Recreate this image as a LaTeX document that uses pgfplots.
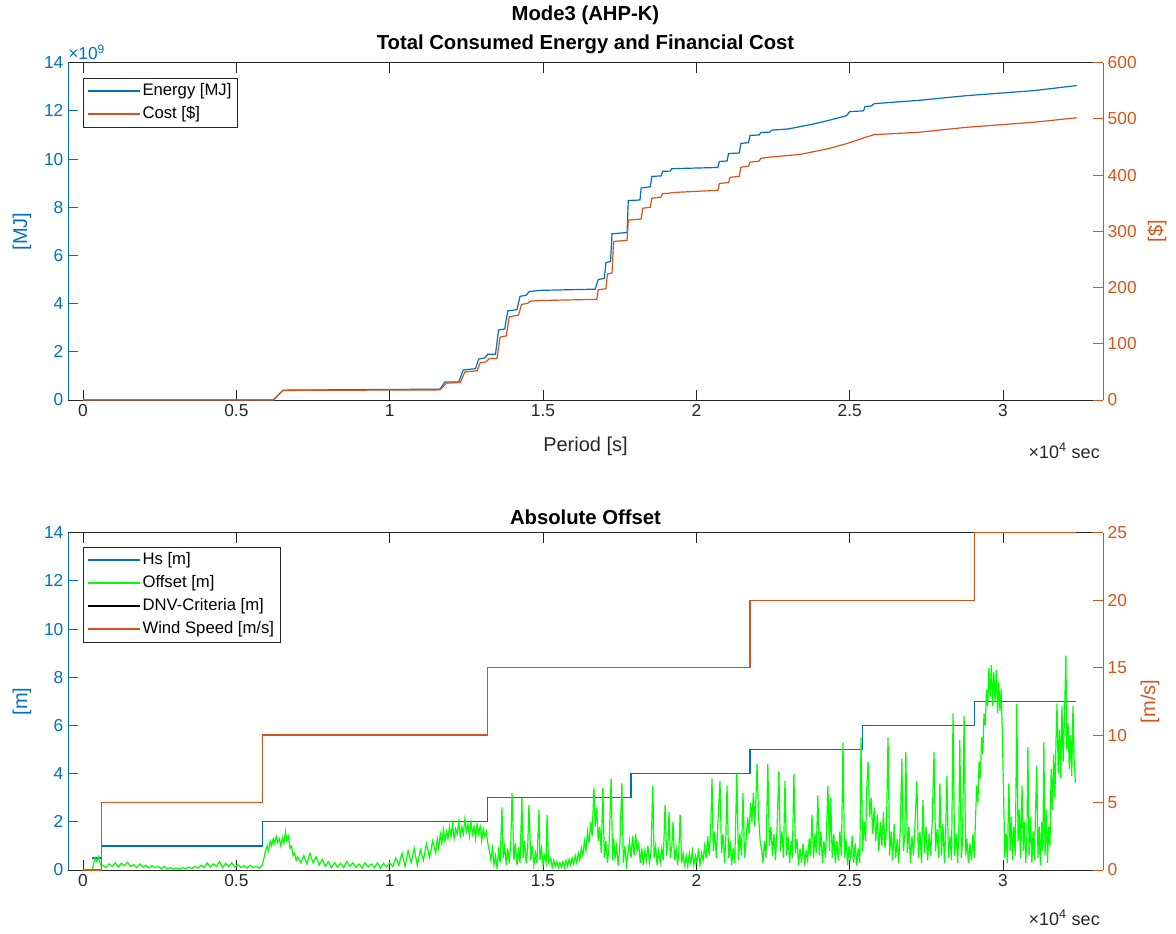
\documentclass[border=0pt]{standalone}
\usepackage{pgfplots}
\usepackage{pgfplotstable}
\pgfplotsset{compat=1.18}
\usepackage{fontspec}
\setmainfont{Liberation Sans}
\definecolor{mblue}{rgb}{0,0.447,0.741}
\definecolor{morange}{rgb}{0.85,0.325,0.098}
\definecolor{mgray}{rgb}{0.15,0.15,0.15}
\definecolor{mgreen}{rgb}{0,1,0}

\pgfplotstableread{
t o
0.030 0.0
0.035 0.3
0.040 0.5
0.045 0.35
0.050 0.55
0.055 0.3
0.060 0.15
0.065 0.2
0.075 0.1
0.085 0.25
0.095 0.15
0.105 0.3
0.115 0.12
0.125 0.28
0.135 0.18
0.145 0.32
0.155 0.15
0.165 0.22
0.175 0.1
0.185 0.25
0.195 0.12
0.205 0.2
0.215 0.08
0.225 0.18
0.235 0.1
0.245 0.15
0.255 0.06
0.265 0.14
0.275 0.05
0.285 0.1
0.295 0.04
0.305 0.08
0.315 0.03
0.325 0.1
0.335 0.05
0.345 0.12
0.355 0.06
0.365 0.15
0.375 0.08
0.385 0.2
0.395 0.1
0.405 0.3
0.415 0.12
0.425 0.25
0.435 0.15
0.445 0.35
0.455 0.1
0.465 0.28
0.475 0.15
0.485 0.3
0.495 0.12
0.505 0.22
0.515 0.1
0.525 0.18
0.535 0.08
0.545 0.2
0.555 0.1
0.565 0.15
0.575 0.08
0.585 0.2
0.590 0.5
0.595 0.8
0.600 1.0
0.605 0.8
0.610 1.2
0.615 1.0
0.620 1.3
0.625 1.1
0.630 1.4
0.635 1.15
0.640 1.3
0.645 1.0
0.650 1.35
0.655 1.1
0.660 1.6
0.665 1.2
0.670 1.4
0.675 0.9
0.680 1.0
0.685 0.6
0.690 0.7
0.695 0.4
0.700 0.55
0.71 0.3
0.72 0.6
0.73 0.25
0.74 0.7
0.75 0.3
0.76 0.55
0.77 0.2
0.78 0.45
0.79 0.15
0.80 0.35
0.81 0.1
0.82 0.3
0.83 0.12
0.84 0.28
0.85 0.1
0.86 0.35
0.87 0.15
0.88 0.3
0.89 0.1
0.90 0.25
0.91 0.08
0.92 0.3
0.93 0.12
0.94 0.25
0.95 0.1
0.96 0.3
0.97 0.08
0.98 0.28
0.99 0.12
1.00 0.3
1.01 0.15
1.02 0.5
1.03 0.2
1.04 0.7
1.05 0.15
1.06 0.8
1.07 0.3
1.08 0.9
1.09 0.2
1.10 0.85
1.11 0.4
1.12 1.1
1.13 0.5
1.14 1.2
1.15 0.7
1.155 1.3
1.160 0.9
1.165 1.5
1.170 1.1
1.175 1.7
1.180 1.2
1.185 1.6
1.190 1.3
1.195 1.8
1.200 1.4
1.205 1.9
1.210 1.3
1.215 1.7
1.220 1.5
1.225 2.0
1.230 1.4
1.235 1.8
1.240 1.5
1.245 2.1
1.250 1.6
1.255 1.9
1.260 1.4
1.265 2.0
1.270 1.5
1.275 1.8
1.280 1.3
1.285 1.9
1.290 1.5
1.295 1.8
1.300 1.2
1.305 1.7
1.310 1.4
1.315 1.6
1.320 1.1
1.325 0.8
1.330 0.4
1.335 0.9
1.340 0.2
1.345 0.6
1.350 0.1
1.355 0.8
1.360 0.3
1.366 2.6
1.370 0.5
1.375 1.0
1.380 0.2
1.385 0.9
1.390 0.3
1.395 1.2
1.399 3.2
1.405 0.4
1.410 1.1
1.415 0.2
1.420 0.8
1.425 0.3
1.431 3.0
1.435 0.5
1.440 1.2
1.445 0.3
1.450 0.9
1.454 2.7
1.460 0.4
1.465 1.0
1.470 0.2
1.475 0.7
1.480 0.3
1.487 2.5
1.490 0.4
1.495 0.9
1.500 0.2
1.505 0.6
1.510 0.3
1.513 2.3
1.518 0.3
1.525 0.5
1.530 0.1
1.535 0.4
1.540 0.15
1.545 0.35
1.550 0.1
1.555 0.3
1.560 0.12
1.565 0.35
1.570 0.1
1.575 0.4
1.580 0.15
1.585 0.45
1.590 0.2
1.595 0.5
1.600 0.25
1.605 0.6
1.610 0.3
1.615 0.7
1.620 0.4
1.625 0.9
1.630 0.6
1.635 1.2
1.640 0.8
1.645 1.6
1.650 1.1
1.655 2.0
1.660 1.4
1.666 3.4
1.670 1.8
1.675 2.6
1.680 1.2
1.685 1.8
1.690 0.7
1.695 3.4
1.700 0.5
1.705 1.2
1.710 0.3
1.715 0.9
1.722 3.8
1.727 0.4
1.730 1.3
1.735 0.5
1.740 1.0
1.745 0.2
1.750 0.8
1.757 3.6
1.762 0.3
1.767 1.0
1.772 0.2
1.777 0.7
1.782 1.2
1.787 0.5
1.792 1.4
1.797 0.6
1.802 1.5
1.807 0.8
1.812 1.1
1.817 0.3
1.822 0.9
1.827 0.2
1.832 0.8
1.837 0.4
1.842 1.0
1.847 0.3
1.852 0.7
1.858 3.5
1.862 0.5
1.867 1.0
1.872 0.2
1.877 0.8
1.882 0.3
1.887 0.9
1.892 0.4
1.898 2.7
1.903 0.6
1.907 1.1
1.911 2.4
1.915 0.5
1.920 1.0
1.924 2.0
1.929 0.4
1.934 0.9
1.939 0.2
1.943 0.8
1.947 2.3
1.952 0.3
1.957 0.7
1.962 0.2
1.967 0.6
1.972 0.15
1.977 0.7
1.982 0.3
1.987 0.8
1.992 0.2
1.997 0.6
2.002 0.3
2.007 0.9
2.012 0.2
2.017 0.7
2.022 0.4
2.027 1.0
2.032 0.5
2.037 1.4
2.042 0.6
2.047 1.8
2.051 3.8
2.055 0.8
2.060 1.6
2.065 0.5
2.070 1.9
2.077 3.7
2.082 0.7
2.087 1.5
2.092 0.3
2.096 1.3
2.100 3.5
2.105 0.5
2.110 1.2
2.115 0.2
2.120 0.9
2.125 0.3
2.132 4.0
2.137 0.4
2.142 1.5
2.147 0.6
2.152 3.2
2.157 0.5
2.162 1.2
2.167 2.2
2.172 1.5
2.177 2.8
2.181 2.0
2.186 3.2
2.190 1.8
2.194 2.9
2.198 4.4
2.203 2.2
2.208 1.2
2.213 0.8
2.217 0.3
2.222 1.2
2.227 0.5
2.233 4.4
2.238 1.0
2.243 1.8
2.248 0.6
2.253 1.5
2.258 0.4
2.263 1.7
2.269 4.1
2.274 0.8
2.279 1.6
2.284 0.5
2.289 3.7
2.294 0.6
2.299 1.4
2.304 0.3
2.309 1.2
2.313 0.5
2.318 4.0
2.323 0.7
2.328 1.3
2.333 0.2
2.338 0.9
2.343 0.3
2.348 1.1
2.353 0.2
2.358 0.8
2.363 0.4
2.368 1.3
2.372 0.6
2.377 2.3
2.382 0.5
2.387 1.5
2.391 0.7
2.396 3.1
2.401 0.6
2.406 1.6
2.411 0.3
2.416 1.2
2.421 0.5
2.425 1.8
2.429 3.5
2.434 0.8
2.438 3.0
2.443 0.5
2.448 1.5
2.453 0.3
2.458 1.2
2.463 0.4
2.468 1.6
2.473 0.6
2.478 5.3
2.483 0.5
2.488 1.3
2.493 0.2
2.498 1.0
2.503 0.4
2.508 1.4
2.513 0.3
2.518 1.1
2.523 0.2
2.528 0.9
2.533 0.3
2.537 5.5
2.542 0.8
2.547 2.0
2.552 1.2
2.556 3.5
2.560 4.5
2.565 2.2
2.570 3.0
2.575 1.5
2.580 2.6
2.585 1.2
2.590 2.3
2.595 0.8
2.600 2.0
2.605 1.0
2.610 2.4
2.615 0.9
2.620 1.8
2.625 5.5
2.630 0.6
2.635 1.6
2.640 0.4
2.645 1.9
2.650 0.5
2.655 1.3
2.660 0.3
2.665 1.7
2.670 4.6
2.675 0.8
2.680 1.5
2.683 4.9
2.688 0.7
2.693 1.8
2.698 0.3
2.703 1.4
2.708 0.6
2.713 1.9
2.719 3.7
2.724 0.5
2.729 1.6
2.734 0.3
2.739 2.9
2.744 0.7
2.749 1.8
2.754 0.4
2.759 1.5
2.764 0.6
2.769 2.0
2.775 4.9
2.780 0.8
2.785 1.7
2.790 0.5
2.794 3.6
2.799 0.6
2.804 1.9
2.809 0.3
2.813 1.6
2.817 3.9
2.822 0.5
2.827 1.4
2.832 0.4
2.837 6.5
2.842 0.6
2.847 1.5
2.852 0.3
2.856 1.8
2.859 5.4
2.864 0.5
2.868 1.2
2.873 6.4
2.878 0.6
2.882 1.3
2.887 0.3
2.892 1.1
2.897 0.4
2.902 1.5
2.906 0.5
2.910 2.0
2.914 3.5
2.918 2.8
2.922 4.5
2.926 3.8
2.930 5.5
2.934 4.8
2.938 6.5
2.942 6.0
2.946 7.5
2.950 6.8
2.954 8.4
2.958 7.2
2.962 8.5
2.966 6.8
2.970 8.2
2.974 7.0
2.978 8.3
2.982 6.5
2.986 7.8
2.990 6.6
2.994 7.5
2.998 5.5
3.002 3.0
3.006 0.5
3.010 1.5
3.014 0.3
3.019 3.6
3.023 0.8
3.027 2.2
3.031 0.4
3.035 1.8
3.040 0.6
3.045 6.9
3.049 1.2
3.053 2.5
3.057 0.5
3.062 3.5
3.066 0.8
3.070 2.0
3.074 0.3
3.078 1.5
3.081 5.1
3.085 0.6
3.090 2.2
3.094 0.3
3.098 1.6
3.102 0.4
3.106 2.4
3.110 4.3
3.114 0.5
3.118 1.8
3.122 0.2
3.126 2.0
3.130 0.8
3.133 5.3
3.137 0.6
3.141 2.5
3.145 0.3
3.149 1.8
3.153 1.0
3.157 4.2
3.161 2.5
3.165 4.8
3.169 3.0
3.173 5.5
3.176 6.9
3.180 4.0
3.184 5.8
3.188 3.8
3.192 6.8
3.196 4.5
3.200 6.2
3.205 8.9
3.208 5.0
3.212 6.1
3.216 4.2
3.220 5.6
3.224 3.9
3.228 6.8
3.232 4.5
3.236 3.6
}\offsettable

\pgfplotsset{
  base/.style={
    width=776.25pt, height=253pt, scale only axis,
    xmin=-0.049, xmax=3.326,
    xtick={0,0.5,1,1.5,2,2.5,3},
    xticklabels={0,0.5,1,1.5,2,2.5,3},
    tick align=inside, major tick length=7.5pt,
    /pgf/number format/assume math mode=true,
    tick label style={font=\fontsize{13}{15}\selectfont},
    label style={font=\fontsize{15}{17}\selectfont},
    axis line style={line width=0.6pt},
    every tick/.style={line width=0.6pt},
    legend cell align=left,
    legend image code/.code={\draw[##1] (0pt,0pt) -- (39pt,0pt);},
    legend style={at={(axis description cs:0,1)}, anchor=north west,
      draw=mgray, line width=0.5pt, fill=white,
      font=\fontsize{12.5}{14}\selectfont, text=black,
      nodes={inner sep=1.5pt, text height=9.5pt, text depth=3pt},
      row sep=1.75pt, inner xsep=3pt, inner ysep=2pt},
  },
  leftst/.style={
    separate axis lines,
    x axis line style={mgray}, y axis line style={mblue},
    xtick pos=both, ytick pos=left,
    x tick style={mgray}, y tick style={mblue},
    xticklabel style={mgray}, yticklabel style={mblue},
    ylabel style={mblue, at={(axis description cs:-0.0444,0.5)}, anchor=center},
  },
  rightst/.style={
    axis y line*=right, axis x line=none,
    y axis line style={morange}, y tick style={morange},
    yticklabel style={morange},
    ylabel style={morange, anchor=center},
  },
}

\begin{document}
\begin{tikzpicture}
\path[use as bounding box] (-51pt,-399.75pt) rectangle (831pt,300pt);

% ---------------- top panel ----------------
\begin{axis}[base, leftst, name=top1, at={(0pt,0pt)},
  ymin=0, ymax=14, ytick={0,2,4,6,8,10,12,14},
  ylabel={[MJ]}, xlabel={Period [s]},
  xlabel style={mgray, at={(axis description cs:0.5,-0.138)}, anchor=center},
  legend style={xshift=11.25pt, yshift=-11.25pt}]
\addlegendimage{color=mblue, line width=0.9pt}
\addlegendentry{Energy [MJ]}
\addlegendimage{color=morange, line width=0.9pt}
\addlegendentry{Cost [\$]}
\addplot[color=mblue, line width=0.9pt, forget plot] coordinates {
(0,0)(0.62,0)(0.652,0.41)(1.164,0.45)(1.18,0.75)(1.225,0.75)(1.24,1.25)(1.28,1.3)
(1.29,1.7)(1.31,1.75)(1.32,1.9)(1.345,1.9)(1.355,2.9)(1.375,2.95)(1.385,3.7)(1.415,3.75)
(1.425,4.3)(1.445,4.35)(1.455,4.5)(1.49,4.55)(1.67,4.6)(1.68,5.0)(1.70,5.05)(1.705,5.7)
(1.72,5.75)(1.725,6.9)(1.774,6.95)(1.778,8.28)(1.816,8.3)(1.82,8.8)(1.85,8.85)(1.855,9.28)
(1.885,9.3)(1.89,9.49)(1.915,9.5)(1.92,9.6)(2.07,9.65)(2.075,9.9)(2.10,9.92)(2.105,10.23)
(2.14,10.25)(2.145,10.65)(2.17,10.68)(2.175,10.98)(2.205,11.0)(2.21,11.1)(2.24,11.12)
(2.245,11.2)(2.30,11.25)(2.34,11.35)(2.38,11.45)(2.43,11.6)(2.49,11.8)(2.50,11.97)
(2.545,12.0)(2.55,12.18)(2.57,12.2)(2.58,12.3)(2.72,12.43)(2.88,12.63)(3.10,12.84)(3.24,13.05)};
\end{axis}
\begin{axis}[base, rightst, at={(0pt,0pt)},
  ymin=0, ymax=600, ytick={0,100,200,300,400,500,600},
  ylabel={[\$]}, ylabel style={at={(axis description cs:1.0522,0.5)}}]
\addplot[color=morange, line width=0.9pt, forget plot] coordinates {
(0,0)(0.62,0)(0.652,17)(1.164,18)(1.185,30)(1.23,31)(1.245,50)(1.285,52)(1.295,66)
(1.315,68)(1.325,74)(1.35,74)(1.36,112)(1.38,114)(1.39,148)(1.42,151)(1.43,170)(1.45,172)
(1.46,176)(1.495,177)(1.675,179)(1.68,196)(1.705,198)(1.71,224)(1.725,226)(1.73,282)
(1.774,284)(1.778,320)(1.82,322)(1.825,341)(1.85,343)(1.855,359)(1.885,361)(1.89,367)
(1.915,368)(1.92,369)(2.07,373)(2.075,385)(2.105,387)(2.11,396)(2.14,398)(2.145,414)
(2.17,416)(2.175,423)(2.205,425)(2.21,430)(2.24,432)(2.34,437)(2.43,447)(2.49,456)
(2.55,467)(2.58,472)(2.72,476)(2.88,485)(3.10,494)(3.24,502)};
\end{axis}

% ---------------- bottom panel ----------------
\begin{axis}[base, leftst, name=bot1, at={(0pt,-352.5pt)},
  ymin=0, ymax=14, ytick={0,2,4,6,8,10,12,14},
  ylabel={[m]},
  legend style={xshift=11.25pt, yshift=-10.5pt}]
\addlegendimage{color=mblue, line width=0.9pt}
\addlegendentry{Hs [m]}
\addlegendimage{color=mgreen, line width=0.9pt}
\addlegendentry{Offset [m]}
\addlegendimage{color=black, line width=0.9pt}
\addlegendentry{DNV-Criteria [m]}
\addlegendimage{color=morange, line width=0.9pt}
\addlegendentry{Wind Speed [m/s]}
\addplot[color=mblue, line width=0.9pt, const plot, forget plot] coordinates {
(0.03,0.5)(0.059,1)(0.584,2)(1.32,3)(1.787,4)(2.175,5)(2.543,6)(2.908,7)(3.238,7)};
\addplot[color=mgreen, line width=0.9pt, forget plot] table[x=t, y=o] {\offsettable};
\end{axis}
\begin{axis}[base, rightst, at={(0pt,-352.5pt)},
  ymin=0, ymax=25, ytick={0,5,10,15,20,25},
  ylabel={[m/s]}, ylabel style={at={(axis description cs:1.0454,0.5)}}]
\addplot[color=morange, line width=0.9pt, const plot, forget plot] coordinates {
(0,0)(0.059,5)(0.584,10)(1.32,15)(2.175,20)(2.908,25)(3.238,25)};
\end{axis}

% ---------------- titles and exponent labels ----------------
\node[font=\bfseries\fontsize{15.2}{17}\selectfont, text=black] at (388.1pt,288.75pt) {Mode3 (AHP-K)};
\node[font=\bfseries\fontsize{15.2}{17}\selectfont, text=black] at (388.1pt,267pt) {Total Consumed Energy and Financial Cost};
\node[font=\bfseries\fontsize{15.2}{17}\selectfont, text=black] at (388.1pt,-87.75pt) {Absolute Offset};
\node[font=\fontsize{13}{15}\selectfont, text=mblue, anchor=west, inner sep=0pt] at (0pt,261pt) {×10\textsuperscript{9}};
\node[font=\fontsize{13.5}{15}\selectfont, text=mgray, anchor=east, inner sep=0pt] at (774pt,-38.25pt) {×10\textsuperscript{4} sec};
\node[font=\fontsize{13.5}{15}\selectfont, text=mgray, anchor=east, inner sep=0pt] at (774pt,-388.5pt) {×10\textsuperscript{4} sec};
\end{tikzpicture}
\end{document}
